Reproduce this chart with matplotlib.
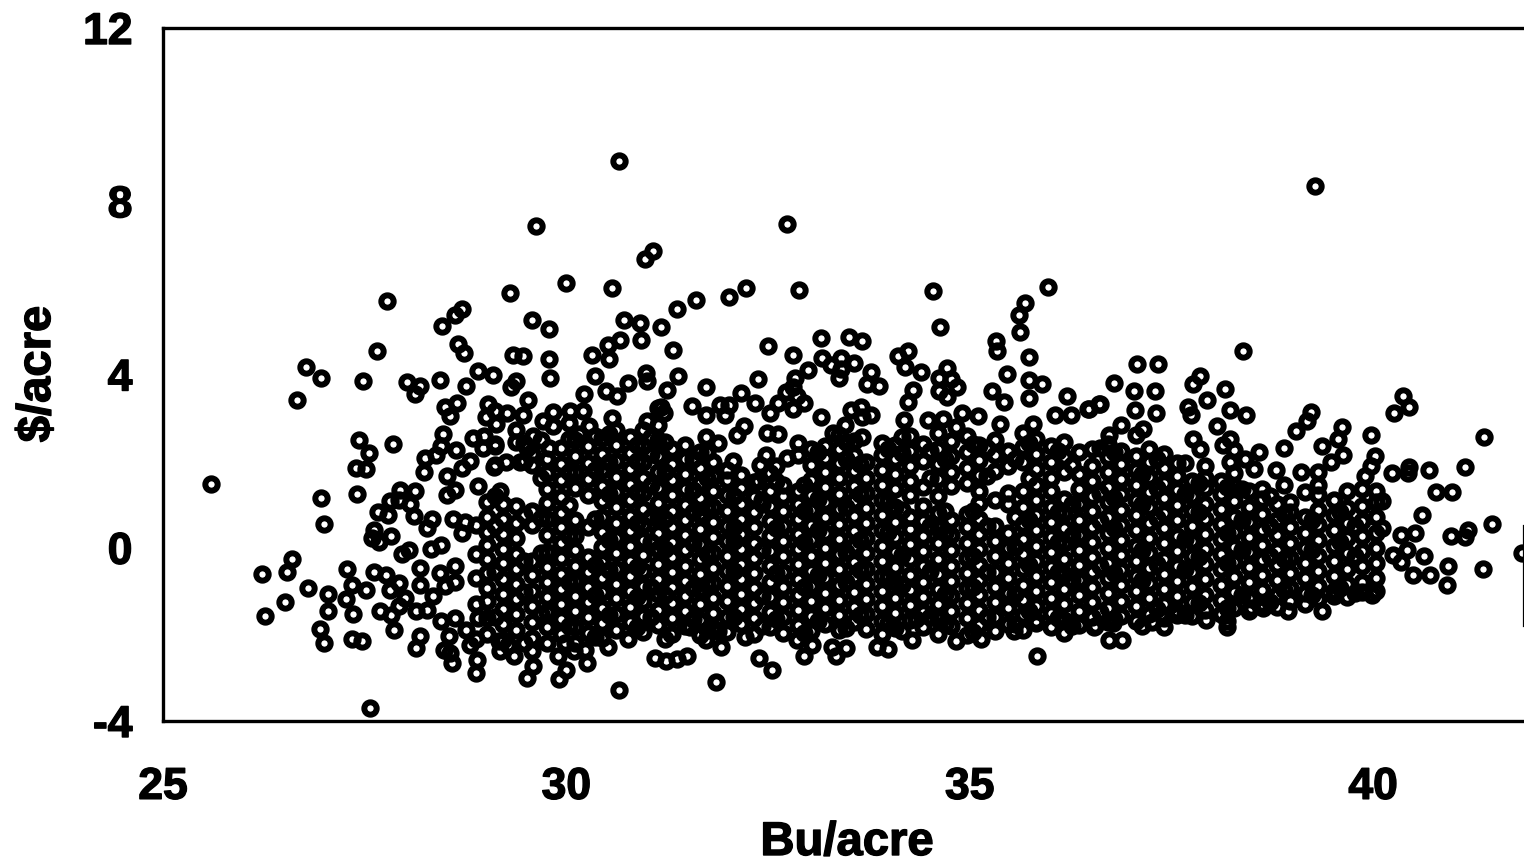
import matplotlib
matplotlib.use("Agg")
import matplotlib.pyplot as plt
import matplotlib.patheffects as pe

x_label = "Bu/acre"
y_label = r"\$/acre"
x_ticks = [25, 30, 35, 40]
y_ticks = [-4, 0, 4, 8, 12]

# isolated / edge points: left part
left_pts = [
(25.59,1.48),(26.23,-0.6),(26.27,-1.57),(26.6,-0.26),(26.54,-0.55),(26.51,-1.26),(26.8,-0.94),(26.95,-1.88),(27.0,-2.2),
(27.05,-1.06),(27.05,-1.45),(26.96,1.16),(26.99,0.55),(26.66,3.4),(26.77,4.17),(26.96,3.93),(27.28,-0.48),(27.27,-1.18),
(27.34,-0.85),(27.35,-1.52),(27.34,-2.1),(27.47,-2.15),(27.57,-3.69),(27.41,1.24),(27.39,1.83),(27.52,1.82),(27.55,2.19),
(27.43,2.48),(27.48,3.84),(27.65,4.55),(27.78,5.7),(27.85,2.39),(27.52,-0.97),(27.61,0.4),(27.83,0.26),(27.68,0.13),(27.59,0.22),
(27.94,1.34),(28.12,1.32),(27.81,1.09),(27.92,1.11),(27.67,0.82),(27.79,0.76),(28.06,1.02),(28.11,0.74),(28.33,0.66),(28.27,0.45),
(28.6,0.66),(28.74,0.59),(28.7,0.34),(28.05,-0.05),(28.32,-0.03),(28.45,0.07),(27.96,-0.14),(27.61,-0.56),(27.77,-0.62),(27.92,-0.82),
(27.81,-0.97),(28.19,-0.47),(28.19,-0.85),(28.43,-0.58),(28.62,-0.42),(28.62,-0.8),(28.5,-0.88),(28.35,-1.12),(28.0,-1.16),(27.92,-1.35),
(27.69,-1.47),(27.82,-1.55),(28.13,-1.45),(28.27,-1.43),(27.86,-1.89),(28.19,-2.03),(28.14,-2.32),(28.45,-1.68),(28.62,-1.62),
(28.54,-2.03),(28.48,-2.36),(28.58,-2.66),(28.76,-1.91),(28.81,-2.24),(28.89,-2.59),(28.88,-2.89),(28.56,-2.43),(28.9,-1.62),
(29.16,-2.16),(29.28,-2.24),(29.35,-2.49),(29.18,-2.39),(29.58,-2.39),(29.59,-2.72),(29.51,-3.01),(29.89,-2.51),(29.98,-2.2),
(30.0,-2.82),(29.91,-3.03),(30.23,-2.36),(30.25,-2.66),(30.09,-2.39),(30.51,-2.28),(30.76,-2.11),(30.65,-3.29),(31.1,-2.55),
(28.46,5.13),(28.62,5.38),(28.71,5.52),(29.3,5.88),(29.58,5.25),(29.78,5.06),(28.66,4.7),(28.73,4.5),(29.34,4.46),(29.46,4.42),
(29.79,4.36),(29.8,3.91),(30.32,4.44),(30.51,4.69),(30.66,4.8),(30.53,4.36),(30.72,5.25),(30.91,5.19),(30.93,4.8),
(28.03,3.83),(28.18,3.74),(28.12,3.55),(28.43,3.88),(28.75,3.73),(28.9,4.09),(29.09,3.99),(29.38,3.86),(29.31,3.71),(29.53,3.42),
(30.35,3.96),(30.22,3.55),(30.49,3.63),(30.63,3.5),(30.76,3.8),(30.99,4.03),(31.0,3.84),(28.64,3.34),(28.5,3.24),(28.56,3.05),
(29.03,3.33),(29.0,3.02),(29.12,3.15),(29.27,3.1),(29.46,3.06),(29.13,2.86),(29.83,3.13),(29.71,2.92),(29.83,2.8),(29.59,2.59),
(30.05,3.15),(30.2,3.16),(30.03,2.88),(30.28,2.82),(30.16,2.63),(30.56,2.99),(31.0,2.92),(31.14,3.23),(28.47,2.63),(28.45,2.36),
(28.63,2.25),(28.84,2.53),(28.98,2.59),(29.11,2.36),(28.97,2.3),(29.38,2.44),(29.51,2.3),(29.78,2.3),(28.25,2.07),(28.39,2.15),
(28.23,1.74),(28.52,1.65),(28.81,2.01),(28.71,1.83),(29.1,1.86),(29.25,1.99),(29.43,1.97),(28.91,1.42),(29.18,1.3),(28.52,1.22),(28.62,1.33),
(30.65,8.94),(29.62,7.44),(30.0,6.12),(30.57,6.0),(30.97,6.67),(31.07,6.86),
]
# isolated / edge points: middle part
mid_pts = [
(31.17,5.09),(31.37,5.52),(31.61,5.73),(32.02,5.78),(32.23,6.0),(32.73,7.48),(32.88,5.94),(34.54,5.92),(34.63,5.09),(35.97,6.02),
(35.68,5.65),(35.61,5.38),(35.62,4.97),(35.32,4.78),(35.34,4.55),(35.74,4.4),(31.32,4.57),(32.5,4.65),(33.16,4.84),(33.5,4.86),
(33.67,4.78),(32.81,4.46),(32.99,4.11),(33.17,4.37),(33.4,4.38),(33.56,4.27),(33.28,4.23),(33.4,4.13),(33.38,3.92),(33.77,4.05),
(33.73,3.78),(33.87,3.73),(31.38,3.97),(31.25,3.65),(31.73,3.7),(32.37,3.9),(32.17,3.57),(32.34,3.34),(31.56,3.28),(31.73,3.06),
(31.9,3.29),(32.02,3.3),(31.96,3.06),(31.17,3.25),(31.21,3.11),(32.83,3.92),(32.81,3.71),(32.72,3.59),(32.86,3.5),(32.62,3.34),
(32.52,3.1),(32.81,3.2),(32.95,3.34),(33.16,3.01),(33.53,3.17),(33.65,3.25),(33.67,3.03),(33.77,3.07),(33.45,2.84),(33.31,2.65),
(33.67,2.56),(34.11,4.42),(34.24,4.55),(34.2,4.17),(34.39,4.06),(34.62,3.93),(34.72,4.15),(34.77,3.9),(34.84,3.71),(34.62,3.63),
(34.72,3.48),(34.3,3.65),(34.24,3.36),(35.46,4.01),(35.27,3.63),(35.43,3.36),(35.74,3.88),(35.74,3.46),(35.9,3.77),(36.2,3.5),
(36.48,3.2),(36.6,3.33),(36.25,3.06),(36.06,3.06),(35.79,2.86),(35.38,2.86),(35.1,3.05),(34.9,3.11),(34.67,2.97),(34.48,2.94),
(34.19,2.96),(34.83,2.78),(32.2,2.8),(32.11,2.6),(32.49,2.66),(32.62,2.63),(31.73,2.55),(31.88,2.42),(32.07,2.01),(32.74,2.07),
(32.38,1.55),(32.4,1.92),(32.47,2.15),(31.24,-2.62),(31.37,-2.57),(31.5,-2.51),(31.85,-3.09),(32.39,-2.55),(32.55,-2.82),(32.95,-2.51),
(33.04,-2.24),(33.29,-2.28),(33.47,-2.32),(33.34,-2.51),(33.85,-2.28),(33.99,-2.34),(34.28,-2.12),(34.33,-1.65),(34.83,-2.15),
(35.14,-2.11),(35.55,-1.93),(35.83,-2.51),(35.82,-1.74),(36.17,-1.97),(36.54,-1.82),(31.3,-1.99),(31.73,-2.12),(31.92,-2.3),
(32.22,-2.05),(31.88,-1.93),(31.53,-1.84),(32.86,-2.12),
]
# isolated / edge points: right part
right_pts = [
(39.28,8.36),(38.39,4.55),(37.07,4.24),(37.33,4.25),(36.79,3.8),(37.04,3.63),(37.29,3.61),(37.05,3.17),(37.31,3.11),(36.62,3.32),
(36.47,3.2),(37.86,3.97),(37.77,3.78),(38.17,3.67),(37.94,3.4),(37.7,3.26),(37.74,3.07),(38.23,3.17),(38.43,3.07),(36.88,2.83),
(37.15,2.75),(36.73,2.61),(37.06,2.61),(38.06,2.8),(37.77,2.51),(37.86,2.29),(37.92,1.89),(38.22,2.51),(38.14,2.38),(38.28,2.26),
(38.59,2.2),(38.23,1.99),(38.41,2.06),(38.9,2.3),(38.8,1.8),(38.52,1.82),(40.37,3.51),(40.45,3.26),(40.26,3.1),(39.23,3.13),
(39.18,2.93),(39.05,2.7),(39.62,2.79),(39.56,2.52),(39.36,2.34),(39.63,2.13),(39.48,1.98),(39.97,2.61),(40.02,2.11),(39.97,1.88),
(39.9,1.65),(39.11,1.76),(39.32,1.76),(41.38,2.56),(40.24,1.72),(40.43,1.72),(40.45,1.86),(40.69,1.8),(41.14,1.86),(40.78,1.29),
(40.98,1.29),(40.11,1.07),(40.6,0.76),(41.47,0.55),(40.11,0.45),(40.34,0.29),(40.52,0.34),(40.97,0.28),(41.14,0.25),(41.18,0.42),
(41.84,-0.12),(40.63,-0.2),(40.25,-0.16),(40.42,-0.05),(40.34,-0.34),(40.93,-0.41),(41.36,-0.49),(40.49,-0.64),(40.7,-0.64),
(40.91,-0.85),(39.99,-1.09),(39.37,-1.47),(38.94,-1.45),(38.63,-1.39),(38.49,-1.38),(38.19,-1.68),(38.19,-1.82),(37.93,-1.66),
(37.41,-1.82),(37.26,-1.72),(37.57,-1.55),(37.37,-1.53),(36.78,-1.74),(36.55,-1.8),(36.73,-2.12),(36.89,-2.12),
]
# dense cloud, read column by column
cloud_x = [29.02,29.21,29.38,29.57,29.76,29.93,30.11,30.27,30.44,30.62,30.79,30.95,31.13,31.31,31.47,31.66,31.82,31.99,32.17,32.33,
           32.52,32.68,32.87,33.03,33.21,33.38,33.56,33.72,33.91,34.07,34.26,34.42,34.61,34.77,34.96,35.12,35.31,35.47,35.66,35.82,
           36.01,36.17,36.36,36.52,36.71,36.87,37.06,37.22,37.41,37.57,37.76,37.92,38.11,38.27,38.46,38.62,38.81,38.97,39.16,39.32,
           39.51,39.67,39.86,40.03]
cloud_y = [
[-2.0,-1.62,-1.24,-0.93,-0.58,-0.27,0.06,0.37,0.72,1.05],
[-2.13,-1.76,-1.41,-1.06,-0.72,-0.36,-0.02,0.31,0.66,1.02],
[-1.91,-1.52,-1.18,-0.84,-0.49,-0.14,0.22,0.58,0.97,2.72],
[-2.08,-1.71,-1.34,-0.99,-0.64,-0.31,0.52,0.86,1.91,2.17],
[-2.19,-1.84,-1.48,-1.13,-0.79,-0.44,-0.09,0.29,0.66,1.03,1.36,1.72,2.06],
[-1.99,-1.64,-1.29,-0.95,-0.61,-0.24,0.11,0.47,0.81,1.18,1.56,1.93,2.31],
[-2.21,-1.83,-1.47,-1.12,-0.77,-0.42,-0.06,0.28,0.63,1.37,1.74,2.11,2.48],
[-1.97,-1.61,-1.26,-0.91,-0.57,-0.21,0.49,1.22,1.58,1.96,2.34],
[-2.09,-1.74,-1.38,-1.03,-0.69,-0.33,0.02,0.36,0.71,1.07,1.42,1.79,2.16,2.53],
[-1.89,-1.53,-1.17,-0.83,-0.48,-0.13,0.23,0.57,0.93,1.29,1.64,2.01,2.37,2.72],
[-1.72,-1.36,-1.01,-0.66,-0.31,0.04,0.39,0.74,1.11,1.47,1.82,2.19,2.55],
[-1.94,-1.58,-1.23,-0.88,-0.53,-0.17,0.18,0.53,0.89,1.26,1.61,1.98,2.34,2.71],
[-1.79,-1.43,-1.07,-0.72,-0.37,-0.02,0.33,0.68,1.04,1.39,1.76,2.12,2.48,2.83],
[-1.98,-1.62,-1.27,-0.91,-0.56,-0.22,0.14,0.49,0.84,1.21,1.57,1.93,2.28],
[-1.81,-1.46,-1.11,-0.76,-0.41,-0.06,0.29,0.64,0.99,1.36,1.71,2.06,2.38],
[-2.02,-1.66,-1.31,-0.96,-0.61,-0.26,0.09,0.44,0.79,1.15,1.5,1.85,2.21],
[-1.86,-1.51,-1.16,-0.81,-0.46,-0.11,0.24,0.59,0.94,1.31,1.66,1.99],
[-1.95,-1.59,-1.24,-0.89,-0.54,-0.19,0.16,0.51,0.86,1.22,1.57,1.79],
[-1.77,-1.42,-1.07,-0.72,-0.37,-0.03,0.32,0.67,1.02,1.37,1.68],
[-1.99,-1.63,-1.28,-0.93,-0.58,-0.23,0.12,0.47,0.82,1.17,1.51],
[-1.83,-1.48,-1.13,-0.78,-0.43,-0.08,0.27,0.62,0.97,1.32,1.73],
[-1.96,-1.6,-1.25,-0.9,-0.55,-0.2,0.15,0.5,0.85,1.2,1.46],
[-1.78,-1.43,-1.08,-0.73,-0.38,-0.04,0.31,0.66,1.01,1.3,2.13,2.41],
[-1.93,-1.58,-1.23,-0.88,-0.53,-0.18,0.17,0.52,0.87,1.22,1.56,1.91,2.27],
[-1.75,-1.4,-1.05,-0.7,-0.35,0.0,0.35,0.7,1.05,1.4,1.75,2.08,2.36],
[-1.9,-1.55,-1.2,-0.85,-0.5,-0.15,0.2,0.55,0.9,1.25,1.6,1.95,2.29,2.61],
[-1.72,-1.37,-1.02,-0.67,-0.32,0.03,0.38,0.73,1.08,1.43,1.78,2.14,2.47],
[-1.88,-1.53,-1.18,-0.83,-0.48,-0.13,0.22,0.57,0.92,1.27,1.62,1.97],
[-1.98,-1.7,-1.35,-1.0,-0.65,-0.3,0.05,0.4,0.75,1.1,1.45,1.8,2.15,2.42],
[-1.85,-1.5,-1.15,-0.8,-0.45,-0.1,0.25,0.6,0.93,1.35,1.7,2.05,2.38],
[-1.67,-1.32,-0.97,-0.62,-0.27,0.08,0.43,0.72,1.22,1.53,1.89,2.23,2.59],
[-1.83,-1.48,-1.13,-0.78,-0.43,-0.08,0.27,0.62,0.97,1.4,2.01,2.39],
[-1.98,-1.65,-1.3,-0.95,-0.6,-0.25,0.1,0.45,0.8,1.2,1.58,1.93,2.29,2.64],
[-1.81,-1.46,-1.11,-0.76,-0.41,-0.06,0.29,0.64,1.42,1.76,2.12,2.47],
[-2.02,-1.63,-1.28,-0.93,-0.58,-0.23,0.12,0.47,0.79,1.5,1.85,2.21,2.58],
[-1.79,-1.44,-1.09,-0.74,-0.39,-0.04,0.31,0.66,1.04,1.3,1.68,2.03,2.37],
[-1.93,-1.6,-1.25,-0.9,-0.55,-0.2,0.15,0.5,1.1,1.78,2.13,2.49],
[-1.75,-1.4,-1.05,-0.7,-0.35,0.0,0.35,1.0,1.26,1.88,2.24],
[-1.89,-1.55,-1.2,-0.85,-0.5,-0.15,0.2,0.54,0.94,1.31,1.97,2.33,2.66],
[-1.7,-1.35,-1.0,-0.65,-0.3,0.05,0.4,0.75,1.1,1.46,1.82,2.17,2.5],
[-1.83,-1.5,-1.15,-0.8,-0.45,-0.1,0.25,0.6,0.95,1.3,1.62,1.98,2.35],
[-1.66,-1.3,-0.95,-0.6,-0.25,0.1,0.45,0.8,1.12,1.76,2.09,2.44],
[-1.79,-1.45,-1.1,-0.75,-0.4,-0.05,0.3,0.65,1.0,1.35,1.7,2.22],
[-1.61,-1.26,-0.91,-0.56,-0.21,0.14,0.49,0.84,1.19,1.54,1.89,2.28],
[-1.72,-1.4,-1.05,-0.7,-0.35,0.0,0.35,0.7,1.05,1.4,1.75,2.1,2.4],
[-1.57,-1.22,-0.87,-0.52,-0.17,0.18,0.53,0.88,1.23,1.58,1.93,2.24],
[-1.69,-1.35,-1.0,-0.65,-0.3,0.05,0.4,0.75,1.1,1.45,1.8,2.12],
[-1.52,-1.17,-0.82,-0.47,-0.12,0.23,0.58,0.93,1.28,1.63,1.98,2.27],
[-1.63,-1.3,-0.95,-0.6,-0.25,0.1,0.45,0.8,1.15,1.5,1.85,2.16],
[-1.47,-1.12,-0.77,-0.42,-0.07,0.28,0.63,0.98,1.33,1.65,1.96],
[-1.58,-1.25,-0.9,-0.55,-0.2,0.15,0.5,0.85,1.2,1.55],
[-1.43,-1.08,-0.73,-0.38,-0.03,0.32,0.67,1.02,1.37,1.6],
[-1.53,-1.2,-0.85,-0.5,-0.15,0.2,0.55,0.9,1.25,1.55],
[-1.38,-1.03,-0.68,-0.33,0.02,0.37,0.72,1.07,1.42,1.72],
[-1.46,-1.15,-0.8,-0.45,-0.1,0.25,0.6,0.95,1.3],
[-1.3,-0.98,-0.63,-0.28,0.07,0.42,0.77,1.12,1.35],
[-1.36,-1.1,-0.75,-0.4,-0.05,0.3,0.65,1.0],
[-1.24,-0.93,-0.58,-0.23,0.12,0.47,0.82,1.05],
[-1.31,-1.05,-0.7,-0.35,0.0,0.35,0.7,1.28],
[-1.19,-0.88,-0.53,-0.18,0.17,0.52,0.87,1.22,1.44],
[-1.12,-1.0,-0.65,-0.3,0.05,0.4,0.75,1.1],
[-1.14,-0.83,-0.48,-0.13,0.22,0.57,0.92,1.31],
[-1.03,-0.78,-0.43,-0.08,0.27,0.62,0.97,1.36],
[-0.99,-0.7,-0.35,0.0,0.35,0.7,1.05,1.31],
]
# second pass over the cloud: points lying between the columns above
fill_x = [28.88,29.12,29.47,29.68,30.03,30.36,30.53,30.87,31.05,31.22,31.57,31.74,32.08,32.43,32.6,32.95,33.12,33.47,33.64,33.99,
          34.16,34.51,34.69,35.04,35.21,35.56,35.74,36.09,36.27,36.62,36.79,37.14,37.32,37.67,37.84,38.19,38.37,38.72,38.89,39.24,39.59,39.78]
fill_y = [
[-1.3,-0.7,-0.15,0.52,-2.1],
[-1.6,-0.55,0.5,1.2,1.9,2.4],
[-2.2,-1.03,0.75,-0.31,2.0,2.42],
[-1.52,-0.12,0.69,1.62,2.48],
[-1.81,-0.79,0.28,0.98,1.74,2.5],
[-2.05,-1.09,-0.39,0.67,1.79,2.58],
[-1.56,-0.51,0.19,1.25,1.97,2.62],
[-1.84,-1.14,-0.44,0.56,1.29,2.01,2.38],
[-1.61,-0.91,0.14,0.71,1.44,2.16,2.55],
[-2.1,-1.09,-0.04,0.66,1.74,2.45],
[-1.64,-0.94,0.11,0.82,1.33,2.04],
[-1.89,-0.84,-0.14,0.91,1.62,2.22],
[-1.59,-0.54,0.16,0.49,1.19],
[-1.81,-1.11,-0.06,1.0,1.11],
[-1.64,-0.59,0.46,1.54,1.88],
[-1.96,-0.91,0.14,0.84,1.46],
[-1.68,-0.63,0.42,1.12,2.2],
[-1.85,-0.8,-0.1,0.95,2.04,2.45],
[-1.56,-0.51,0.19,1.24,1.94],
[-1.73,-0.68,0.37,1.07,2.29],
[-1.92,-0.87,-0.17,0.88,2.18,2.55],
[-1.59,-0.54,0.51,1.61,2.24],
[-1.76,-1.06,0.34,0.84,2.06],
[-1.95,-0.9,-0.2,0.85,2.39],
[-1.6,-0.55,0.5,1.66,2.3],
[-1.76,-1.06,0.01,0.72,2.05],
[-1.45,-0.4,0.65,1.62,2.42],
[-1.62,-0.57,0.13,0.82,2.23],
[-1.8,-0.75,0.3,1.0,1.9],
[-1.48,-0.43,0.62,1.27,2.3],
[-1.64,-0.59,0.46,1.16,2.2],
[-1.8,-0.75,-0.05,1.0,1.7],
[-1.42,-0.37,0.68,1.38,2.05],
[-1.55,-0.5,0.2,1.25,1.95],
[-1.27,-0.22,0.83,1.5],
[-1.4,-0.35,0.35,1.4],
[-1.1,-0.05,0.65,1.35],
[-1.25,-0.2,0.5,1.2],
[-0.97,-0.27,0.78,1.45],
[-1.1,-0.05,0.65],
[-0.92,0.13,0.83],
[-1.05,-0.2,0.5],
]

xs = [p[0] for p in left_pts + mid_pts + right_pts]
ys = [p[1] for p in left_pts + mid_pts + right_pts]
for cx, col in zip(cloud_x + fill_x, cloud_y + fill_y):
    xs += [cx] * len(col)
    ys += col

plt.rcParams["font.family"] = ["Liberation Sans", "DejaVu Sans"]
plt.rcParams["font.weight"] = "bold"
plt.rcParams["axes.unicode_minus"] = False

fig = plt.figure(figsize=(15.24, 8.65), dpi=100)
ax = fig.add_axes([163 / 1524, 1 - 721 / 865, (1524 - 163) / 1524, (721 - 28) / 865])
ax.plot(xs, ys, linestyle="none", marker="o", ms=8.9, mfc="none", mec="black", mew=4.3)

ax.set_xlim(25, 41.87)
ax.set_ylim(-4, 12)
ax.set_xticks(x_ticks)
ax.set_yticks(y_ticks)
ax.tick_params(length=0, labelsize=32)
ax.tick_params(axis="x", pad=33)
ax.tick_params(axis="y", pad=22)
for side in ["left", "top", "bottom"]:
    ax.spines[side].set_linewidth(2.4)
ax.spines["right"].set_linewidth(1.6)
ax.spines["right"].set_bounds(-1.8, 0.5)

bold = [pe.withStroke(linewidth=1.0, foreground="black")]
for lab in ax.get_xticklabels() + ax.get_yticklabels():
    lab.set_path_effects(bold)
fig.text(847 / 1524, 1 - 843 / 865, x_label, ha="center", va="center", fontsize=34,
         fontweight="bold", path_effects=bold)
fig.text(38 / 1524, 1 - 374 / 865, y_label, ha="center", va="center", rotation=90, fontsize=34,
         fontweight="bold", path_effects=bold)

fig.savefig("out.png", dpi=100, facecolor="white")
